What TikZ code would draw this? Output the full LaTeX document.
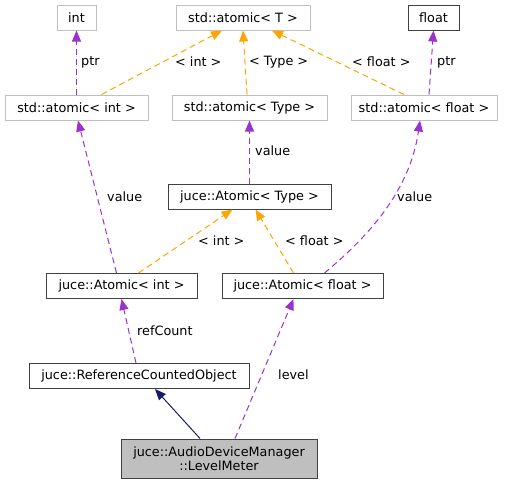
\documentclass[tikz,border=0pt]{standalone}
\usepackage{fontspec}
\setmainfont{DejaVu Sans}
\usetikzlibrary{arrows.meta}
\definecolor{edgegray}{HTML}{BFBFBF}
\definecolor{boxgray}{HTML}{BFBFBF}
\definecolor{usecol}{HTML}{9A32CD}
\definecolor{tmplcol}{HTML}{FFA500}
\definecolor{inhcol}{HTML}{191970}
\tikzset{
	cls/.style={draw=edgegray, line width=1pt, minimum height=25pt, inner sep=0pt, font=\fontsize{12.8}{14.5}\selectfont},
	doc/.style={cls, draw=black!75},
	usage/.style={usecol, dashed, dash pattern=on 6pt off 4pt, line width=1pt, -{Triangle[length=11pt,width=9pt]}},
	tmpl/.style={tmplcol, dashed, dash pattern=on 6pt off 4pt, line width=1pt, -{Triangle[length=11pt,width=9pt]}},
	inh/.style={inhcol, line width=1pt, -{Triangle[length=11pt,width=9pt]}},
	lbl/.style={anchor=west, inner sep=0pt, font=\fontsize{12.8}{14.5}\selectfont}
}
\begin{document}
\begin{tikzpicture}[x=1pt, y=-1pt]
		\useasboundingbox (0,0) rectangle (511,485);
		%top row
		\node[cls, minimum width=39pt] (int) at (76.5, 17.5) {int};
		\node[cls, minimum width=134pt] (atomT) at (243, 17.5) {std::atomic< T >};
		\node[doc, minimum width=51pt] (float) at (433.5, 17.5) {float};
		
		%std::atomic instances
		\node[cls, minimum width=143pt] (atomInt) at (76.5, 107.5) {std::atomic< int >};
		\node[cls, minimum width=155pt] (atomType) at (249.5, 107.5) {std::atomic< Type >};
		\node[cls, minimum width=146pt] (atomFloat) at (424, 107.5) {std::atomic< float >};
		
		%juce::Atomic
		\node[doc, minimum width=163pt] (jAtomType) at (249.5, 196.5) {juce::Atomic< Type >};
		\node[doc, minimum width=151pt] (jAtomInt) at (121.5, 286) {juce::Atomic< int >};
		\node[doc, minimum width=161pt] (jAtomFloat) at (302.5, 286) {juce::Atomic< float >};
		
		\node[doc, minimum width=220pt] (refObj) at (139, 376) {juce::ReferenceCountedObject};
		\node[doc, fill=boxgray, minimum width=196pt, minimum height=39pt, align=center] (meter) at (219, 458.5) {juce::AudioDeviceManager\\::LevelMeter};
		
		%edges, top
		\draw[usage] (atomInt.north -| int) -- (int.south);
		\node[lbl] (lPtrInt) at (81, 62) {ptr};
		\draw[tmpl] ([xshift=25pt]atomInt.north) -- ([xshift=-21pt]atomT.south);
		\node[lbl] (lInt) at (175, 62) {< int >};
		\draw[tmpl] ([xshift=-2.5pt]atomType.north) -- (atomT.south);
		\node[lbl] (lType) at (249, 62) {< Type >};
		\draw[tmpl] ([xshift=-20pt]atomFloat.north) -- ([xshift=29pt]atomT.south);
		\node[lbl] (lFloat) at (352, 62) {< float >};
		\draw[usage] ([xshift=5pt]atomFloat.north) -- (float.south);
		\node[lbl] (lPtrFloat) at (437, 62) {ptr};
		
		%edges, middle
		\draw[usage] (jAtomType.north) -- (atomType.south);
		\node[lbl] (lValType) at (255, 151) {value};
		\draw[usage] ([xshift=-5pt]jAtomInt.north) -- ([xshift=1.5pt]atomInt.south);
		\node[lbl] (lValInt) at (107, 197) {value};
		\draw[usage] ([xshift=22pt]jAtomFloat.north) .. controls (370,235) and (410,190) .. ([xshift=-4pt]atomFloat.south);
		\node[lbl] (lValFloat) at (397, 197) {value};
		\draw[tmpl] ([xshift=17pt]jAtomInt.north) -- ([xshift=-17pt]jAtomType.south);
		\node[lbl] (lInt2) at (198, 241) {< int >};
		\draw[tmpl] ([xshift=-9pt]jAtomFloat.north) -- ([xshift=6pt]jAtomType.south);
		\node[lbl] (lFloat2) at (285, 241) {< float >};
		
		%edges, bottom
		\draw[usage] ([xshift=-3pt]refObj.north) -- (jAtomInt.south);
		\node[lbl] (lRef) at (137, 331) {refCount};
		\draw[usage] ([xshift=16pt]meter.north) -- ([xshift=-9pt]jAtomFloat.south);
		\node[lbl] (lLevel) at (278, 375) {level};
		\draw[inh] ([xshift=-19pt]meter.north) -- ([xshift=16pt]refObj.south);
\end{tikzpicture}
\end{document}
